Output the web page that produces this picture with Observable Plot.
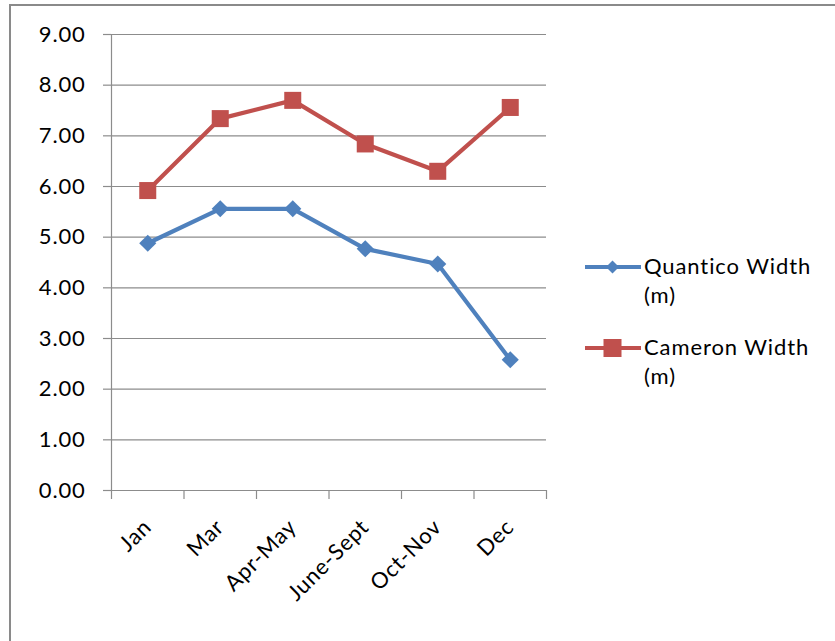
<!DOCTYPE html>
<html>
<head>
<meta charset="utf-8">
<script src="https://cdn.jsdelivr.net/npm/d3@7"></script>
<script src="https://cdn.jsdelivr.net/npm/@observablehq/plot@0.6"></script>
<style>
  html, body { margin: 0; padding: 0; background: #fff; overflow: hidden; }
  body { width: 835px; height: 641px; position: relative; font-family: Lato, "Open Sans", sans-serif; }
  #border { position: absolute; left: 9px; top: 4px; width: 2000px; height: 2000px;
            border-left: 2px solid #8a8a8a; border-top: 2px solid #8a8a8a; }
  #chart { position: absolute; left: 0; top: 0; }
  #chart svg text { letter-spacing: 0.8px; }
  .entry { position: absolute; left: 585px; }
  .entry svg { position: absolute; left: 0; top: 1px; }
  .entry .txt { position: absolute; left: 59px; top: 0; width: 185px; font-size: 22px;
                line-height: 29px; color: #000; letter-spacing: 0.9px; }
</style>
</head>
<body>
<div id="border"></div>
<div id="chart"></div>
<div id="legend"></div>
<script>
// Channel widths through the year, in metres
const categories = ["Jan", "Mar", "Apr-May", "June-Sept", "Oct-Nov", "Dec"];
const quanticoWidth = [4.88, 5.56, 5.56, 4.77, 4.47, 2.58];
const cameronWidth = [5.92, 7.34, 7.70, 6.84, 6.30, 7.56];
const seriesNames = ["Quantico Width (m)", "Cameron Width (m)"];
const yTicks = [0, 1, 2, 3, 4, 5, 6, 7, 8, 9];

const blue = "#4f81bd";
const red = "#c0504d";
const gridColor = "#8c8c8c";

const rows = (values) => categories.map((c, i) => ({category: c, slot: i + 0.5, value: values[i]}));
const quantico = rows(quanticoWidth);
const cameron = rows(cameronWidth);

const slotCenters = categories.map((c, i) => i + 0.5);
const slotEdges = d3.range(categories.length + 1);

const chart = Plot.plot({
  width: 835,
  height: 641,
  marginLeft: 111,
  marginRight: 289,
  marginTop: 34,
  marginBottom: 151,
  style: {background: "transparent", fontFamily: "Lato, 'Open Sans', sans-serif", fontSize: "22px", color: "#000"},
  x: {type: "linear", domain: [0, categories.length]},
  y: {domain: [0, 9]},
  marks: [
    Plot.ruleY(yTicks, {stroke: gridColor, strokeWidth: 1.2}),
    Plot.ruleX([0], {stroke: gridColor, strokeWidth: 1.2}),
    Plot.axisY(yTicks, {
      tickSize: 8, tickPadding: 18, tickFormat: d3.format(".2f"),
      stroke: gridColor, strokeWidth: 1.2, strokeOpacity: 1, label: null, fontSize: 22
    }),
    Plot.axisX(slotEdges, {
      tickSize: 9, tickFormat: () => "", stroke: gridColor, strokeWidth: 1.2, strokeOpacity: 1, label: null
    }),
    Plot.axisX(slotCenters, {
      tickSize: 0, tickPadding: 33, tickRotate: -45, fontSize: 22,
      tickFormat: (d) => categories[Math.floor(d)], label: null
    }),
    Plot.line(quantico, {x: "slot", y: "value", stroke: blue, strokeWidth: 4.2}),
    Plot.dot(quantico, {x: "slot", y: "value", symbol: "diamond2", r: 7.7, fill: blue}),
    Plot.line(cameron, {x: "slot", y: "value", stroke: red, strokeWidth: 4.2}),
    Plot.dot(cameron, {x: "slot", y: "value", symbol: "square", r: 9.6, fill: red})
  ]
});
document.getElementById("chart").appendChild(chart);

// Legend to the right of the plot area
const legend = document.getElementById("legend");
const entries = [
  {name: seriesNames[0], color: blue, top: 251, marker: "diamond"},
  {name: seriesNames[1], color: red, top: 332, marker: "square"}
];
for (const e of entries) {
  const div = document.createElement("div");
  div.className = "entry";
  div.style.top = e.top + "px";
  const markerSvg = e.marker === "diamond"
    ? `<path d="M27.5,8.5 L34,15 L27.5,21.5 L21,15 Z" fill="${e.color}"/>`
    : `<rect x="18.5" y="6" width="18" height="18" fill="${e.color}"/>`;
  div.innerHTML =
    `<svg width="56" height="30" viewBox="0 0 56 30">
       <line x1="1" y1="15" x2="55" y2="15" stroke="${e.color}" stroke-width="4.2" stroke-linecap="round"/>
       ${markerSvg}
     </svg>
     <div class="txt">${e.name}</div>`;
  legend.appendChild(div);
}
</script>
</body>
</html>
